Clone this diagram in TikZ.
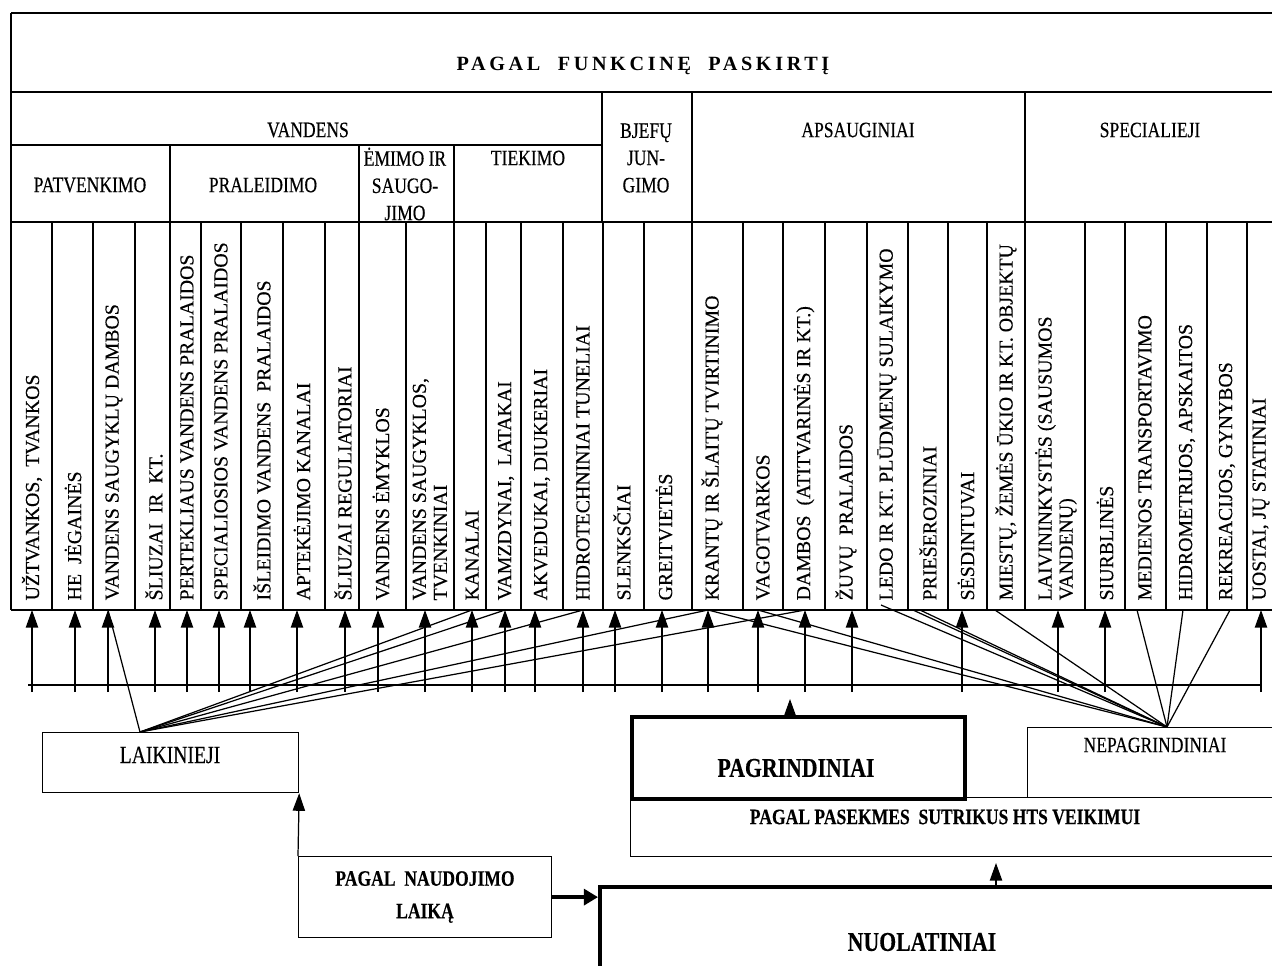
\documentclass[tikz,border=0pt]{standalone}
\usepackage{fontspec}
\setmainfont{Liberation Serif}
\newfontfamily\colfont{Liberation Serif}[FakeBold=0.3]
\newfontfamily\condfont{Liberation Serif}[FakeStretch=0.8, FakeBold=0.3]
\newfontfamily\spacedfont{Liberation Serif}[LetterSpace=18]
\usetikzlibrary{arrows.meta,positioning}
\tikzset{
  colname/.style={rotate=90, anchor=west, inner sep=0pt, align=left, font=\colfont\fontsize{11.3}{12}\selectfont},
  grouptxt/.style={inner sep=0pt, align=center, font=\condfont\fontsize{12.5}{15.5}\selectfont},
  boldtxt/.style={inner sep=0pt, align=center, font=\condfont\bfseries\fontsize{12.5}{18.5}\selectfont},
  bigtxt/.style={inner sep=0pt, font=\condfont\bfseries\fontsize{15.5}{18}\selectfont},
  upto/.style={-{Triangle[width=7pt,length=10pt]}, line width=0.7pt},
  fanline/.style={line width=0.7pt},
  box/.style={draw, line width=0.7pt, anchor=north west, inner sep=0pt},
  heavybox/.style={box, line width=2.2pt}
}
\begin{document}
\begin{tikzpicture}[x=0.02cm, y=-0.02cm, line width=0.7pt]
  \useasboundingbox (0,0) rectangle (1272,965);
  \clip (0,0) rectangle (1272,965);
  % table frame
  \draw[line width=1.1pt] (11,13) -- (1300,13);
  \draw (11,13) -- (11,610);
  \draw[line width=1pt] (11,92) -- (1300,92);
  \draw (11,145) -- (602,145);
  \draw[line width=1pt] (11,222) -- (1300,222);
  \draw (11,610) -- (1300,610);
  \foreach \x in {602,692,1025}
    \draw (\x,92) -- (\x,222);
  \foreach \x in {170,359,454}
    \draw (\x,145) -- (\x,222);
  \foreach \x in {52,93,135,170,201,241,283,325,359,406,454,486,521,563,603,644,692,743,783,825,867,908,948,987,1025,1085,1125,1166,1207,1247}
    \draw (\x,222) -- (\x,610);

  \node[font=\spacedfont\bfseries\fontsize{11.5}{13}\selectfont, inner sep=0pt] (funk) at (643,66) {PAGAL\ \ FUNKCINĘ\ \ PASKIRTĮ};
  \node[grouptxt] (vand) at (308,130) {VANDENS};
  \node[grouptxt] (patv) at (90,185) {PATVENKIMO};
  \node[grouptxt] (pral) at (263,185) {PRALEIDIMO};
  \node[grouptxt] (emim) at (405,184) {ĖMIMO IR\\SAUGO-\\JIMO};
  \node[grouptxt] (tiek) at (528,158) {TIEKIMO};
  \node[grouptxt] (bjef) at (646,158) {BJEFŲ\\JUN-\\GIMO};
  \node[grouptxt] (apsa) at (858,130) {APSAUGINIAI};
  \node[grouptxt] (spec) at (1150,130) {SPECIALIEJI};

  \foreach \x/\txt [count=\i] in {32/{UŽTVANKOS,\ \ TVANKOS}, 73/{HE\ \ JĖGAINĖS}, 114/{VANDENS SAUGYKLŲ DAMBOS},
      154/{ŠLIUZAI\ \ IR\ \ KT.}, 187/{PERTEKLIAUS VANDENS PRALAIDOS}, 221/{SPECIALIOSIOS VANDENS PRALAIDOS},
      262/{IŠLEIDIMO VANDENS\ \ PRALAIDOS}, 302/{APTEKĖJIMO KANALAI}, 343/{ŠLIUZAI REGULIATORIAI},
      381/{VANDENS ĖMYKLOS}, 430/{VANDENS SAUGYKLOS,\\TVENKINIAI}, 472/{KANALAI}, 506/{VAMZDYNAI,\ \ LATAKAI},
      542/{AKVEDUKAI, DIUKERIAI}, 583/{HIDROTECHNINIAI TUNELIAI}, 622/{SLENKSČIAI}, 664/{GREITVIETĖS},
      712/{KRANTŲ IR ŠLAITŲ TVIRTINIMO}, 763/{VAGOTVARKOS}, 804/{DAMBOS\ \ (ATITVARINĖS IR KT.)},
      846/{ŽUVŲ\ \ PRALAIDOS}, 887/{LEDO IR KT. PLŪDMENŲ SULAIKYMO}, 928/{PRIEŠEROZINIAI}, 966/{SĖSDINTUVAI},
      1006/{MIESTŲ, ŽEMĖS ŪKIO IR KT. OBJEKTŲ}, 1056/{LAIVININKYSTĖS (SAUSUMOS\\VANDENŲ)}, 1105/{SIURBLINĖS},
      1145/{MEDIENOS TRANSPORTAVIMO}, 1187/{HIDROMETRIJOS, APSKAITOS}, 1227/{REKREACIJOS, GYNYBOS},
      1261/{UOSTAI, JŲ STATINIAI}}
    \node[colname] (col\i) at (\x,601) {\txt};

  % bar and arrows
  \coordinate (barL) at (28,685);
  \coordinate (barR) at (1262,685);
  \draw[line width=1.6pt] (barL) -- (barR);
  \foreach \x [count=\i] in {32,75,108,155,187,219,250,297,345,378,425,472,505,535,583,615,662,708,758,805,852,962,1058,1105,1261}
  {
    \coordinate (top\i) at (\x,610);
    \coordinate (foot\i) at (\x,692);
    \draw[upto] (foot\i) -- (top\i);
  }
  \coordinate (ledo) at (881,605);
  \coordinate (prie1) at (913,610);
  \coordinate (prie2) at (920,610);
  \coordinate (mies) at (995,610);
  \coordinate (medi) at (1137,610);
  \coordinate (hidr) at (1183,610);
  \coordinate (rekr) at (1230,610);

  % boxes
  \node[box, minimum width=5.12cm, minimum height=1.2cm] (laik) at (42,732) {};
  \node[grouptxt, font=\condfont\fontsize{14}{16}\selectfont] (laiklbl) at (170,755) {LAIKINIEJI};
  \coordinate (laiktop) at (140,732);
  \node[heavybox, minimum width=6.66cm, minimum height=1.64cm] (pagr) at (630,715) {};
  \node[bigtxt] (pagrlbl) at (796,768) {PAGRINDINIAI};
  \coordinate (pagrbase) at (790,715);
  \coordinate (pagrtip) at (790,699);
  \node[box, minimum width=5.46cm, minimum height=1.4cm] (nepa) at (1027,727) {};
  \node[grouptxt] (nepalbl) at (1155,745) {NEPAGRINDINIAI};
  \coordinate (nepatop) at (1167,727);
  \node[box, minimum width=13.4cm, minimum height=1.18cm] (pase) at (630,797) {};
  \node[boldtxt] (paselbl) at (945,817) {PAGAL PASEKMES\ \ SUTRIKUS HTS VEIKIMUI};
  \node[box, minimum width=5.06cm, minimum height=1.62cm] (naud) at (298,856) {};
  \node[boldtxt] (naudlbl) at (425,897) {PAGAL\ \ NAUDOJIMO\\LAIKĄ};
  \node[heavybox, minimum width=14.04cm, minimum height=2.3cm] (nuol) at (598,885) {};
  \node[bigtxt] (nuollbl) at (922,942) {NUOLATINIAI};
  \coordinate (nuoltop) at (996,885);
  \coordinate (nuoltip) at (996,863);

  % connectors
  \foreach \t in {top3,top12,top13,top15,top18,top20}
    \draw[fanline] (laiktop) -- (\t);
  \foreach \t in {top18,top19,ledo,prie1,prie2,mies,medi,hidr,rekr}
    \draw[fanline] (nepatop) -- (\t);
  \draw[upto] (pagrbase) -- (pagrtip);
  \draw[upto] (nuoltop) -- (nuoltip);
  \draw[upto] (naud.north west) -- (laik.south east);
  \draw[line width=2pt, -{Triangle[width=9pt,length=8pt]}] (naud.east) -- (naud.east -| nuol.west);
\end{tikzpicture}
\end{document}
